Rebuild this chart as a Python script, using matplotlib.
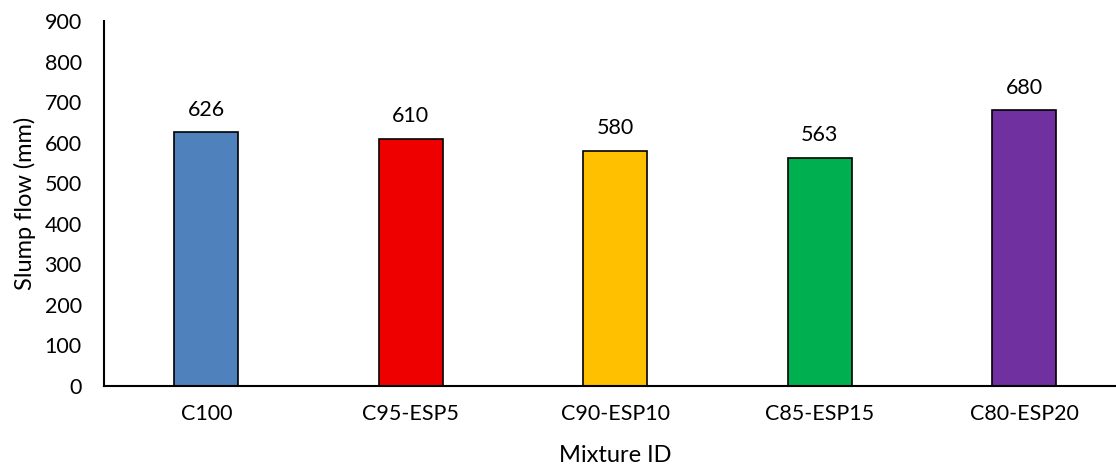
import matplotlib.pyplot as plt

# Data
mixtures = ['C100', 'C95-ESP5', 'C90-ESP10', 'C85-ESP15', 'C80-ESP20']
slump = [626, 610, 580, 563, 680]
colors = ['#4F81BD', '#EE0000', '#FFC000', '#00B050', '#7030A0']

plt.rcParams['font.family'] = ['Lato', 'DejaVu Sans']

fig = plt.figure(figsize=(11.16, 4.75), dpi=100)
ax = fig.add_axes([0.0932, 0.1874, 0.9162, 0.768])

x = range(len(mixtures))
bars = ax.bar(x, slump, width=0.313, color=colors, edgecolor='black', linewidth=1.2)

for b, v in zip(bars, slump):
    ax.annotate(str(v), (b.get_x() + b.get_width() / 2, v), xytext=(0, 9),
                textcoords='offset points', ha='center', va='bottom', fontsize=15.5)

ax.set_xlim(-0.5, 4.5)
ax.set_ylim(0, 900)
ax.set_yticks(range(0, 901, 100))
ax.set_xticks(list(x))
ax.set_xticklabels(mixtures)
ax.tick_params(axis='both', length=0, labelsize=15.5)
ax.tick_params(axis='x', pad=13)
ax.tick_params(axis='y', pad=16)

for s in ['top', 'right']:
    ax.spines[s].set_visible(False)
for s in ['left', 'bottom']:
    ax.spines[s].set_linewidth(1.5)

ax.set_xlabel('Mixture ID', fontsize=17, labelpad=15)
ax.set_ylabel('Slump flow (mm)', fontsize=17, labelpad=6)

fig.savefig('out.png', dpi=100)
